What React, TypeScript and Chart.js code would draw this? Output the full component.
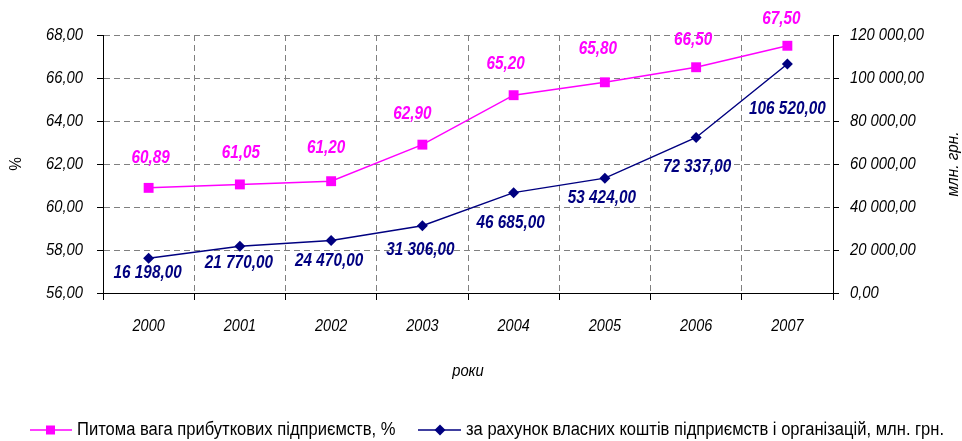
import React, { useEffect, useRef } from "react";
import { Chart, registerables } from "chart.js";

Chart.register(...registerables);

const years = ["2000", "2001", "2002", "2003", "2004", "2005", "2006", "2007"];
const shareProfitable = [60.89, 61.05, 61.2, 62.9, 65.2, 65.8, 66.5, 67.5];
const ownFunds = [16198, 21770, 24470, 31306, 46685, 53424, 72337, 106520];

const pinkLabelDx = [2, 1, -5, -10, -8, -7, -3, -6];
const pinkLabelDy = [-30, -31, -33, -31, -31, -33, -27, -27];
const navyLabelDx = [-1, -1, -2, -2, -3, -3, 1, 0];
const navyLabelDy = [15, 17, 21, 24, 30, 20, 30, 45];

const legendPink = "Питома вага прибуткових підприємств, %";
const legendNavy = "за рахунок власних коштів підприємств і організацій, млн. грн.";
const xTitle = "роки";
const yTitle = "%";
const y1Title = "млн. грн.";

const PINK = "#FF00FF";
const NAVY = "#000080";
const FONT = "'Liberation Sans', Arial, sans-serif";

function fmt(v: number): string {
  const [i, d] = v.toFixed(2).split(".");
  return i.replace(/\B(?=(\d{3})+(?!\d))/g, " ") + "," + d;
}

function txt(
  ctx: CanvasRenderingContext2D,
  s: string,
  x: number,
  y: number,
  align: CanvasTextAlign,
  sx: number,
  rot = 0
) {
  ctx.save();
  ctx.translate(x, y);
  if (rot) ctx.rotate(rot);
  ctx.scale(sx, 1);
  ctx.textAlign = align;
  ctx.textBaseline = "middle";
  ctx.fillText(s, 0, 0);
  ctx.restore();
}

const overlay = {
  id: "overlay",
  afterDatasetsDraw(chart: any) {
    const ctx = chart.ctx as CanvasRenderingContext2D;
    const ca = chart.chartArea;
    ctx.save();

    // tick labels
    ctx.fillStyle = "#000";
    ctx.font = `italic 17px ${FONT}`;
    const sy = chart.scales.y;
    sy.ticks.forEach((t: any, i: number) => {
      txt(ctx, fmt(t.value), 83, sy.getPixelForTick(i), "right", 0.87);
    });
    const sy1 = chart.scales.y1;
    sy1.ticks.forEach((t: any, i: number) => {
      txt(ctx, fmt(t.value), 850, sy1.getPixelForTick(i), "left", 0.87);
    });
    const sxs = chart.scales.x;
    years.forEach((yr, i) => {
      txt(ctx, yr, sxs.getPixelForValue(i), 326, "center", 0.85);
    });

    // axis titles
    txt(ctx, xTitle, (ca.left + ca.right) / 2, 371, "center", 0.87);
    const midY = (ca.top + ca.bottom) / 2;
    txt(ctx, y1Title, 953, midY, "center", 0.9, -Math.PI / 2);
    ctx.font = `17px ${FONT}`;
    txt(ctx, yTitle, 16, midY, "center", 0.9, -Math.PI / 2);

    // data labels
    ctx.font = `italic bold 18px ${FONT}`;
    const m0 = chart.getDatasetMeta(0);
    ctx.fillStyle = PINK;
    m0.data.forEach((p: any, i: number) => {
      txt(ctx, fmt(shareProfitable[i]), p.x + pinkLabelDx[i], p.y + pinkLabelDy[i], "center", 0.85);
    });
    const m1 = chart.getDatasetMeta(1);
    ctx.fillStyle = NAVY;
    m1.data.forEach((p: any, i: number) => {
      txt(ctx, fmt(ownFunds[i]), p.x + navyLabelDx[i], p.y + navyLabelDy[i], "center", 0.85);
    });

    // legend
    const ly = 430;
    ctx.font = `18px ${FONT}`;
    ctx.lineWidth = 1.5;
    ctx.strokeStyle = PINK;
    ctx.beginPath();
    ctx.moveTo(30, ly);
    ctx.lineTo(72, ly);
    ctx.stroke();
    ctx.fillStyle = PINK;
    ctx.fillRect(46, ly - 4.5, 9, 9);
    ctx.fillStyle = "#000";
    txt(ctx, legendPink, 77, ly, "left", 0.92);
    ctx.strokeStyle = NAVY;
    ctx.beginPath();
    ctx.moveTo(418, ly);
    ctx.lineTo(461, ly);
    ctx.stroke();
    ctx.fillStyle = NAVY;
    ctx.beginPath();
    ctx.moveTo(440, ly - 5.5);
    ctx.lineTo(445.5, ly);
    ctx.lineTo(440, ly + 5.5);
    ctx.lineTo(434.5, ly);
    ctx.closePath();
    ctx.fill();
    ctx.fillStyle = "#000";
    txt(ctx, legendNavy, 466, ly, "left", 0.92);
    ctx.restore();
  },
};

export default function App() {
  const ref = useRef<HTMLCanvasElement | null>(null);
  useEffect(() => {
    if (!ref.current) return;
    const hidden = "rgba(0,0,0,0)";
    const tickFont = { family: FONT, size: 15, style: "italic" as const };
    const chart = new Chart(ref.current, {
      type: "line",
      data: {
        labels: years,
        datasets: [
          {
            label: legendPink,
            data: shareProfitable,
            yAxisID: "y",
            borderColor: PINK,
            backgroundColor: PINK,
            borderWidth: 1.5,
            pointStyle: "rect",
            pointRadius: 7,
            pointBorderWidth: 0,
            tension: 0,
          },
          {
            label: legendNavy,
            data: ownFunds,
            yAxisID: "y1",
            borderColor: NAVY,
            backgroundColor: NAVY,
            borderWidth: 1.5,
            pointStyle: "rectRot",
            pointRadius: 5.5,
            pointBorderWidth: 0,
            tension: 0,
          },
        ],
      },
      options: {
        responsive: false,
        animation: false,
        layout: { padding: { top: 35, left: 0, right: 0, bottom: 0 } },
        plugins: { legend: { display: false }, tooltip: { enabled: false } },
        scales: {
          x: {
            offset: true,
            grid: {
              offset: true,
              color: "#808080",
              tickLength: 7,
              tickColor: "#000",
            } as any,
            border: { display: true, color: "#000", width: 1, dash: [6, 4] } as any,
            ticks: { font: tickFont, color: hidden, padding: 18, maxRotation: 0 },
            afterFit: (s: any) => {
              s.height = 148;
            },
          },
          y: {
            position: "left",
            min: 56,
            max: 68,
            ticks: {
              stepSize: 2,
              font: tickFont,
              color: hidden,
              padding: 14,
              callback: (v: any) => fmt(Number(v)),
            },
            grid: {
              color: "#808080",
              tickLength: 6,
              tickColor: "#000",
            },
            border: { display: true, color: "#000", width: 1, dash: [6, 4] } as any,
            afterFit: (s: any) => {
              s.width = 103;
            },
          },
          y1: {
            position: "right",
            min: 0,
            max: 120000,
            ticks: {
              stepSize: 20000,
              font: tickFont,
              color: hidden,
              padding: 11,
              callback: (v: any) => fmt(Number(v)),
            },
            grid: {
              drawOnChartArea: false,
              tickLength: 6,
              tickColor: "#000",
            },
            border: { display: true, color: "#000", width: 1 },
            afterFit: (s: any) => {
              s.width = 129;
            },
          },
        },
      },
      plugins: [overlay],
    });
    return () => chart.destroy();
  }, []);
  return (
    <canvas
      ref={ref}
      width={962}
      height={441}
      style={{ position: "fixed", left: 0, top: 0, width: 962, height: 441 }}
    />
  );
}
